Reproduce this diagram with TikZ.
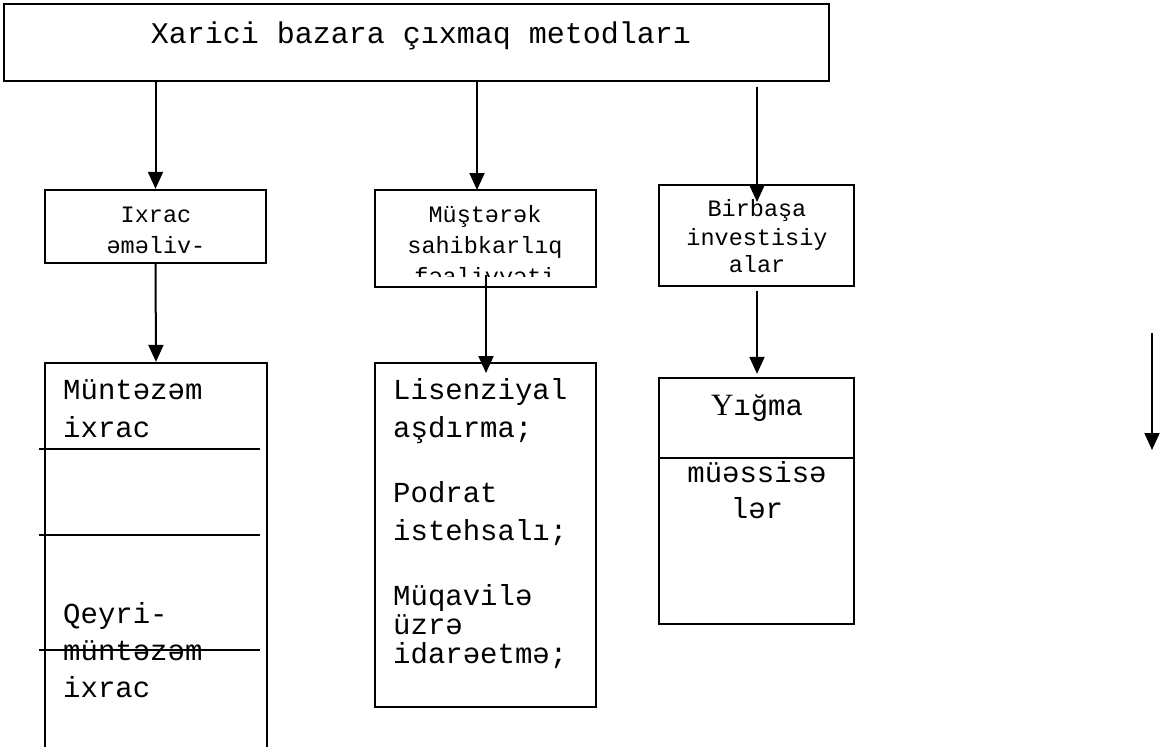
\documentclass[tikz,border=0pt]{standalone}
\usepackage{fontspec}
\usetikzlibrary{arrows.meta}
\newfontfamily\monof{Liberation Mono}
\newfontfamily\seriff{Liberation Serif}
\begin{document}
\begin{tikzpicture}[x=1pt,y=-1pt,
  box/.style={draw,line width=2.3pt,rectangle,inner sep=0pt,fill=none},
  arr/.style={line width=2pt,-{Triangle[length=17pt,width=15pt]}},
  sep/.style={line width=2.3pt},
  title/.style={font=\monof\fontsize{30}{36}\selectfont,inner sep=0pt},
  small/.style={font=\monof\fontsize{23.5}{28}\selectfont,inner sep=0pt,anchor=base},
  big/.style={font=\monof\fontsize{29}{34}\selectfont,inner sep=0pt,anchor=base west},
  bigc/.style={font=\monof\fontsize{29}{34}\selectfont,inner sep=0pt,anchor=base}]
\useasboundingbox (0,0) rectangle (1160,747);

% top heading
\node[box,minimum width=825pt,minimum height=77pt] (top) at (416.5,42.5) {};
\node[title,anchor=base] (toptext) at (421,43) {Xarici bazara çıxmaq metodları};

% second row
\node[box,minimum width=221pt,minimum height=73pt] (ixrac) at (155.5,226.5) {};
\node[box,minimum width=221pt,minimum height=97pt] (joint) at (485.5,238.5) {};
\node[box,minimum width=195pt,minimum height=101pt] (direct) at (756.5,235.5) {};

\node[small] (ix1) at (156,222) {Ixrac};
\node[small] (ix2) at (156,253) {əməliv-};
\node[small] (jt1) at (485,222) {Müştərək};
\node[small] (jt2) at (485,253) {sahibkarlıq};
\begin{scope}
  \clip (375,190) rectangle (596,276);
  \node[small] (jt3) at (485,284) {fəaliyyəti};
\end{scope}
\node[small] (dr1) at (757,216) {Birbaşa};
\node[small] (dr2) at (757,245) {investisiy};
\node[small] (dr3) at (757,272) {alar};

% third row
\node[box,minimum width=222pt,minimum height=437pt] (regular) at (156,581.5) {};
\node[box,minimum width=221pt,minimum height=344pt] (contract) at (485.5,535) {};
\node[box,minimum width=195pt,minimum height=246pt] (assembly) at (756.5,501) {};

\coordinate (r1a) at (39,449);  \coordinate (r1b) at (260,449);
\coordinate (r2a) at (39,535);  \coordinate (r2b) at (260,535);
\coordinate (r3a) at (39,650);  \coordinate (r3b) at (260,650);
\draw[sep] (r1a) -- (r1b);
\draw[sep] (r2a) -- (r2b);
\draw[sep] (r3a) -- (r3b);
\draw[sep] (assembly.west |- 0,458) -- (assembly.east |- 0,458);

\node[big] (rg1) at (63,399) {Müntəzəm};
\node[big] (rg2) at (63,437) {ixrac};
\node[big] (rg3) at (63,623) {Qeyri-};
\node[big] (rg4) at (63,660) {müntəzəm};
\node[big] (rg5) at (63,697) {ixrac};

\node[big] (ct1) at (393,399) {Lisenziyal};
\node[big] (ct2) at (393,437) {aşdırma;};
\node[big] (ct3) at (393,502) {Podrat};
\node[big] (ct4) at (393,540) {istehsalı;};
\node[big] (ct5) at (393,605) {Müqavilə};
\node[big] (ct6) at (393,634) {üzrə};
\node[big] (ct7) at (393,663) {idarəetmə;};

\node[bigc] (as1) at (757,415) {{\seriff\fontsize{31}{34}\selectfont Y}ığma};
\node[bigc] (as2) at (757,482) {müəssisə};
\node[bigc] (as3) at (757,518) {lər};

% connectors
\coordinate (j0) at (477,81);
\coordinate (j1) at (477,190);
\coordinate (d0) at (757,87);
\coordinate (d1) at (757,202);
\coordinate (c0) at (486,275);
\coordinate (c1) at (486,373);
\coordinate (f0) at (1152,333);
\coordinate (f1) at (1152,450);

\draw[arr] (top.south -| ixrac.north) -- (ixrac.north);
\draw[arr] (j0) -- (j1);
\draw[arr] (d0) -- (d1);
\draw[arr] (ixrac.south) -- (regular.north);
\draw[arr] (c0) -- (c1);
\draw[arr,shorten <=4pt,shorten >=3pt] (direct.south -| d1) -- (assembly.north -| d1);
\draw[arr] (f0) -- (f1);
\end{tikzpicture}
\end{document}
